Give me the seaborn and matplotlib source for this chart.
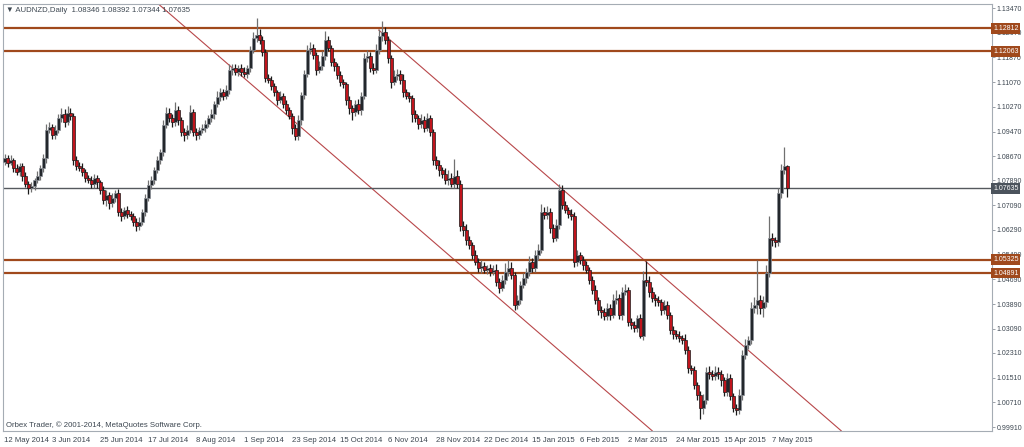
import matplotlib

matplotlib.use("Agg")
import matplotlib.pyplot as plt
import seaborn as sns
import numpy as np
import pandas as pd

# daily closes (AUDNZD, 12 May 2014 - 14 May 2015)
closes = [
    1.0862, 1.0846, 1.0855, 1.0829, 1.0816, 1.0836, 1.0803, 1.0778, 1.0765, 1.0771,
    1.0790, 1.0803, 1.0829, 1.0862, 1.0952, 1.0962, 1.0936, 1.0952, 1.0991, 1.1004,
    1.0978, 1.1007, 1.0998, 1.0855, 1.0836,
    1.0829, 1.0816, 1.0797, 1.0790, 1.0778, 1.0797, 1.0784, 1.0758, 1.0726, 1.0742,
    1.0716, 1.0732,
    1.0748, 1.0687, 1.0674, 1.0693, 1.0681, 1.0674, 1.0655, 1.0642, 1.0655, 1.0687,
    1.0732,
    1.0774, 1.0790, 1.0823, 1.0855, 1.0881, 1.0968, 1.1007, 1.0991, 1.0978,
    1.1017, 1.0985, 1.0946, 1.0936, 1.0952, 1.1011, 1.0946, 1.0936, 1.0952, 1.0959,
    1.0972, 1.0991, 1.1004, 1.1036, 1.1059, 1.1075, 1.1062, 1.1082, 1.1146, 1.1153,
    1.1140, 1.1153, 1.1140, 1.1134,
    1.1153, 1.1211, 1.1250, 1.1260, 1.1244, 1.1205,
    1.1121, 1.1114, 1.1095, 1.1075, 1.1049, 1.1062, 1.1036, 1.1017, 1.0998, 1.0959,
    1.0933, 1.0985,
    1.1066, 1.1134, 1.1211, 1.1218, 1.1195, 1.1146, 1.1159, 1.1192, 1.1244, 1.1218,
    1.1172, 1.1159, 1.1130,
    1.1108, 1.1101, 1.1049, 1.1023, 1.1011, 1.1036, 1.1017, 1.1062, 1.1185, 1.1192,
    1.1153, 1.1146, 1.1211, 1.1256, 1.1269,
    1.1244, 1.1185, 1.1108, 1.1127, 1.1134, 1.1114, 1.1075, 1.1062, 1.1056, 1.1004,
    1.0991, 1.0972, 1.0985, 1.0959, 1.0991, 1.0946,
    1.0855, 1.0839, 1.0823, 1.0810, 1.0790, 1.0797, 1.0778, 1.0803, 1.0778,
    1.0642,
    1.0629, 1.0596, 1.0580, 1.0548, 1.0525, 1.0506, 1.0512, 1.0499, 1.0506, 1.0493,
    1.0499,
    1.0460, 1.0441, 1.0467, 1.0493, 1.0506, 1.0483, 1.0386,
    1.0402, 1.0451, 1.0473, 1.0493, 1.0525, 1.0506,
    1.0548, 1.0564, 1.0687, 1.0677, 1.0687, 1.0635, 1.0603, 1.0645,
    1.0758, 1.0710, 1.0693, 1.0681, 1.0674, 1.0525,
    1.0548, 1.0532, 1.0515, 1.0499, 1.0467, 1.0435, 1.0402, 1.0370, 1.0363, 1.0350,
    1.0376, 1.0354, 1.0402, 1.0409, 1.0354, 1.0428, 1.0435, 1.0331, 1.0321, 1.0312,
    1.0344,
    1.0286, 1.0467, 1.0460, 1.0428, 1.0409, 1.0402, 1.0396, 1.0370, 1.0386,
    1.0354, 1.0305, 1.0292, 1.0286, 1.0279, 1.0273, 1.0240, 1.0182, 1.0176, 1.0127,
    1.0095, 1.0053, 1.0079,
    1.0169, 1.0163, 1.0156, 1.0169, 1.0163, 1.0143, 1.0105, 1.0150, 1.0092, 1.0053,
    1.0046, 1.0095, 1.0224, 1.0257, 1.0273,
    1.0376, 1.0386, 1.0402, 1.0376, 1.0396, 1.0490, 1.0603, 1.0596, 1.0590, 1.0748,
    1.0823, 1.08346, 1.07635,
]

# wick sizes in pips above / below the body
upper_wick_pips = [
    12, 10, 15, 8, 12, 10, 9, 14, 10, 12,
    8, 15, 10, 12, 20, 15, 10, 18, 12, 20, 15, 22, 18, 10, 14,
    12, 15, 10, 9, 14, 12, 10, 8, 12, 15, 10, 18,
    10, 12, 14, 10, 12, 8, 10, 12, 15, 10, 12,
    15, 12, 10, 14, 10, 18, 20, 15, 12,
    25, 14, 10, 12, 15, 22, 10, 12, 10, 14,
    12, 10, 15, 10, 18, 12, 10, 15, 20, 12, 14, 10, 12, 15,
    10, 12, 18, 55, 20, 12,
    10, 14, 12, 10, 8, 15, 10, 12, 10, 8, 12, 15,
    10, 12, 15, 20, 12, 10, 18, 15, 30, 12, 10, 14, 10,
    12, 10, 8, 14, 10, 12, 15, 12, 18, 20, 12, 15, 18, 22, 35,
    15, 12, 10, 20, 15, 12, 18, 10, 12, 8, 14, 10, 20, 12, 15, 10,
    10, 12, 15, 10, 20, 25, 15, 55, 20,
    12,
    15, 20, 12, 10, 15, 12, 18, 14, 10, 12, 15,
    20, 12, 15, 30, 25, 20, 10,
    15, 12, 18, 14, 20, 12,
    15, 20, 25, 15, 20, 12, 14, 18,
    20, 15, 12, 10, 14, 12,
    15, 10, 12, 14, 10, 12, 15, 10, 12, 14,
    18, 12, 20, 25, 12, 15, 18, 10, 12, 14, 10,
    12, 30, 60, 20, 15, 12, 14, 10, 15,
    12, 10, 14, 12, 15, 10, 20, 12, 10, 14, 10, 12, 20,
    15, 18, 12, 20, 15, 12, 10, 15, 12, 10, 14, 20, 15, 18, 12,
    20, 25, 130, 15, 20, 25, 70, 15, 10, 15, 20, 63, 5,
]
lower_wick_pips = [
    10, 12, 8, 14, 10, 12, 15, 10, 20, 12,
    12, 10, 14, 12, 15, 10, 12, 14, 10, 12, 15, 10, 12, 15, 12,
    10, 12, 14, 10, 12, 15, 18, 12, 14, 20, 18, 12,
    14, 12, 15, 10, 12, 14, 12, 15, 12, 10, 14,
    10, 12, 14, 10, 12, 14, 10, 12, 15,
    12, 15, 14, 20, 12, 10, 14, 15, 12, 10,
    14, 10, 12, 15, 10, 12, 14, 10, 12, 15, 10, 12, 14, 10,
    12, 14, 10, 12, 15, 14,
    12, 10, 14, 12, 15, 10, 12, 14, 10, 20, 13, 12,
    15, 12, 10, 14, 12, 15, 10, 12, 14, 10, 12, 15, 12,
    14, 12, 15, 20, 25, 12, 14, 15, 10, 12, 14, 12, 10, 12, 15,
    12, 15, 20, 10, 12, 14, 15, 10, 12, 25, 12, 15, 12, 14, 10, 12,
    15, 12, 20, 14, 12, 15, 10, 12, 14,
    15,
    20, 15, 12, 14, 10, 12, 15, 10, 12, 14, 10,
    12, 15, 10, 12, 14, 12, 16,
    14, 12, 10, 15, 12, 14,
    12, 15, 10, 14, 12, 15, 12, 10,
    12, 15, 10, 14, 12, 15,
    14, 12, 15, 10, 12, 14, 12, 15, 20, 14,
    12, 15, 10, 14, 12, 15, 10, 12, 14, 15, 12,
    8, 12, 14, 15, 12, 20, 14, 15, 12,
    14, 12, 15, 10, 12, 14, 12, 15, 12, 14, 15, 36, 20,
    12, 15, 14, 12, 15, 18, 12, 15, 12, 14, 15, 12, 15, 14, 12,
    12, 15, 30, 20, 30, 15, 12, 18, 15, 12, 15, 12, 29,
]
first_open = 1.0850

level_prices = [1.12812, 1.12063, 1.05325, 1.04891]
last_price = 1.07635
price_ticks = [1.13470, 1.12670, 1.11870, 1.11070, 1.10270, 1.09470, 1.08670,
               1.07890, 1.07090, 1.06290, 1.05490, 1.04690, 1.03890, 1.03090,
               1.02310, 1.01510, 1.00710, 0.99910]
# channel lines: (bar number, price) anchors
channel_lower = [(51.3, 1.1360), (216.0, 0.9978)]
channel_upper = [(124.7, 1.1276), (279.0, 0.9978)]
holidays = ["2014-12-25", "2015-01-01"]

n = len(closes)
dates = pd.bdate_range("2014-05-12", "2015-07-31", freq="C", holidays=holidays)[:n]
df = pd.DataFrame({"date": dates, "close": closes})
df["open"] = df["close"].shift(1).fillna(first_open)
df["top"] = df[["open", "close"]].max(axis=1)
df["bot"] = df[["open", "close"]].min(axis=1)
df["high"] = df["top"] + np.array(upper_wick_pips[:n]) / 10000
df["low"] = df["bot"] - np.array(lower_wick_pips[:n]) / 10000
df["bull"] = df["close"] >= df["open"]
idx = np.arange(n)

sns.set_theme(style="white")
plt.rcParams["font.family"] = ["Liberation Sans", "DejaVu Sans"]
fs = 5.6
fs_axis = 5.0
txt_col = "#3c4650"

fig = plt.figure(figsize=(10.24, 4.47), dpi=100)
ax = fig.add_axes([3 / 1024, 16 / 447, 989 / 1024, 427 / 447])

bull = df["bull"].values
ax.vlines(idx[bull], df["low"][bull], df["high"][bull], colors="#707070", lw=0.9, zorder=2)
ax.vlines(idx[~bull], df["low"][~bull], df["high"][~bull], colors="#1a1a1a", lw=0.9, zorder=2)
heights = np.maximum(df["top"] - df["bot"], 0.00008)
ax.bar(idx[bull], heights[bull], bottom=df["bot"][bull], width=0.75,
       color="#23272c", edgecolor="#8a8f96", lw=0.5, zorder=3)
ax.bar(idx[~bull], heights[~bull], bottom=df["bot"][~bull], width=0.75,
       color="#c0141c", edgecolor="#1a1a1a", lw=0.5, zorder=3)

# channel lines
for line in (channel_lower, channel_upper):
    xs, ys = zip(*line)
    ax.plot(xs, ys, color="#b8474a", lw=0.8, zorder=1)

for p in level_prices:
    ax.axhline(p, color="#a0491c", lw=1.6, zorder=1)
ax.axhline(last_price, color="#55595e", lw=1.0, zorder=1)

ax.set_xlim(-0.5, -0.5 + 989 / 3)
ax.set_ylim(0.99782, 1.13600)

tick_pos = list(range(0, n, 16))
tick_lbl = [f"{d.day} {d.strftime('%b %Y')}" for d in dates[tick_pos]]
ax.set_xticks(tick_pos)
ax.set_xticklabels(tick_lbl, ha="left", fontsize=fs, color=txt_col)
ax.set_yticks(price_ticks)
ax.set_yticklabels([f"{v:.5f}" for v in price_ticks], fontsize=fs_axis, color=txt_col)
ax.yaxis.tick_right()
ax.tick_params(axis="y", direction="out", length=2.5, width=0.6, pad=1, colors="#8a9099",
               labelcolor=txt_col)
ax.tick_params(axis="x", direction="out", length=3, width=0.6, pad=1.5, colors="#8a9099",
               labelcolor=txt_col)
for s in ax.spines.values():
    s.set_color("#a5acb4")
    s.set_linewidth(0.8)

# price tags on the right scale
for p in level_prices:
    ax.text(1.0012, p, f"{p:.5f}", transform=ax.get_yaxis_transform(), fontsize=fs_axis,
            color="white", va="center", ha="left", clip_on=False, zorder=5,
            bbox=dict(boxstyle="square,pad=0.25", fc="#a0491c", ec="none"))
ax.text(1.0012, last_price, f"{last_price:.5f}", transform=ax.get_yaxis_transform(),
        fontsize=fs_axis, color="white", va="center", ha="left", clip_on=False, zorder=5,
        bbox=dict(boxstyle="square,pad=0.25", fc="#4b535c", ec="none"))

fig.text(6 / 1024, 1 - 10 / 447, "\u25bc AUDNZD,Daily  1.08346 1.08392 1.07344 1.07635",
         fontsize=fs, color=txt_col, va="center", ha="left")
fig.text(6 / 1024, 1 - 425 / 447, "Orbex Trader, \u00a9 2001-2014, MetaQuotes Software Corp.",
         fontsize=fs, color=txt_col, va="center", ha="left")

fig.savefig("out.png", dpi=100, facecolor="white")
plt.close(fig)
